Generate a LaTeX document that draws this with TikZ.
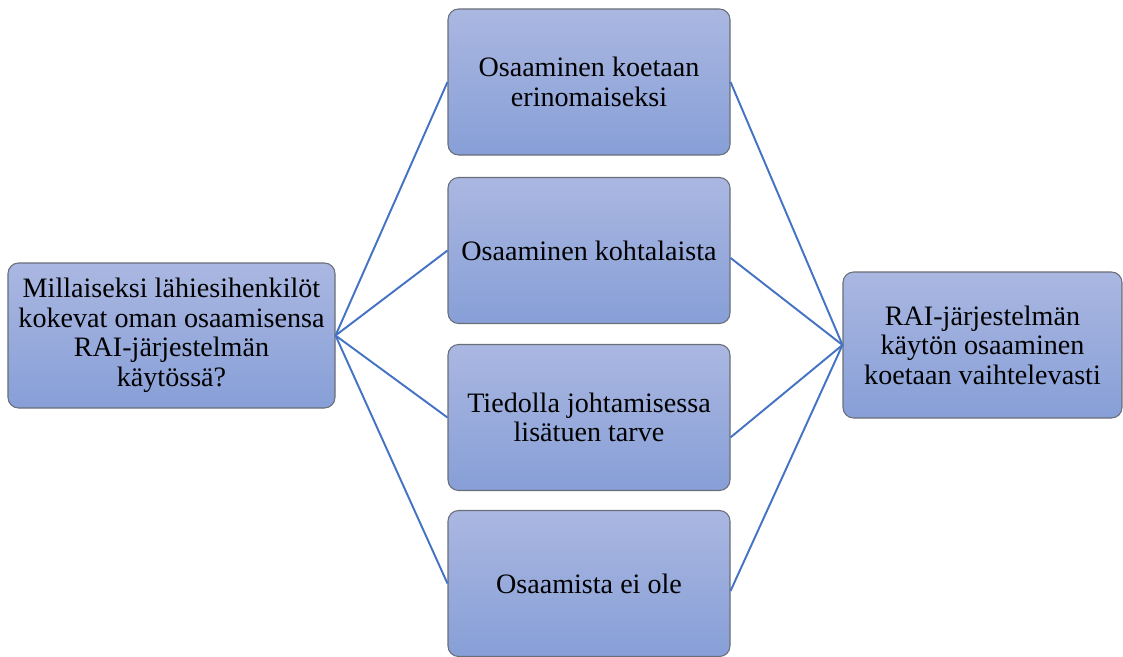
\documentclass[tikz,border=0pt]{standalone}
\usepackage{fontspec}
\setmainfont{Liberation Serif}
\usetikzlibrary{positioning}
\definecolor{boxtop}{RGB}{170,183,225}
\definecolor{boxbottom}{RGB}{135,159,215}
\definecolor{boxborder}{RGB}{105,110,120}
\definecolor{linkblue}{RGB}{68,114,196}
\tikzset{
    box_node/.style={rectangle, rounded corners=6pt, draw=boxborder, line width=0.6pt,
        top color=boxtop, bottom color=boxbottom, align=center,
        font=\fontsize{16}{16.8}\selectfont, inner sep=2pt},
    mid_node/.style={box_node, minimum width=5.64cm, minimum height=2.92cm},
    link_edge/.style={line width=1.1pt, linkblue}
}
\begin{document}
\begin{tikzpicture}
    \useasboundingbox (0,0) rectangle (22.46,13.12);
    % question and summary
    \node[box_node, minimum width=6.54cm, minimum height=2.9cm] (q) at (3.43,6.41)
        {Millaiseksi lähiesihenkilöt\\kokevat oman osaamisensa\\RAI-järjestelmän\\käytössä?};
    \node[box_node, minimum width=5.58cm, minimum height=2.92cm] (s) at (19.65,6.22)
        {RAI-järjestelmän\\käytön osaaminen\\koetaan vaihtelevasti};
    % answers
    \node[mid_node] (m1) at (11.78,11.48) {Osaaminen koetaan\\erinomaiseksi};
    \node[mid_node] (m2) at (11.78,8.11) {Osaaminen kohtalaista};
    \node[mid_node] (m3) at (11.78,4.77) {Tiedolla johtamisessa\\lisätuen tarve};
    \node[mid_node] (m4) at (11.78,1.45) {Osaamista ei ole};
    % connectors
    \foreach \i/\a in {1/0, 2/-3, 3/-8, 4/-3} {
        \draw[link_edge] (q.east) -- (m\i.west);
        \draw[link_edge] (m\i.\a) -- (s.west);
    }
\end{tikzpicture}
\end{document}
